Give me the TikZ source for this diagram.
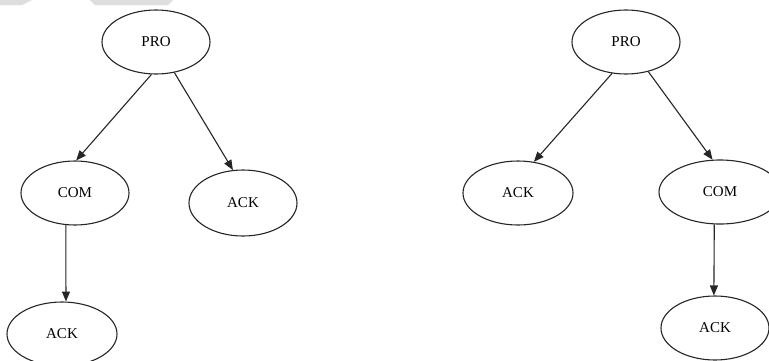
\documentclass[tikz,border=0pt]{standalone}
\usepackage{fontspec}
\setmainfont{Liberation Serif}
\usetikzlibrary{shapes.geometric,arrows.meta}
\begin{document}
\begin{tikzpicture}[x=1pt,y=-1pt,
  st/.style={draw=black!85, line width=1.1pt, ellipse, inner sep=0pt,
     font=\fontsize{15}{18}\selectfont},
  ar/.style={draw=black!85, line width=1.1pt, -{Triangle[length=10pt,width=8pt]}}]
\useasboundingbox (0,0) rectangle (769,360);
\fill[white] (0,0) rectangle (769,360);
% faint grey bands at the top edge
\fill[black!13] (0,0) -- (32,0) -- (22,5) -- (0,5) -- cycle;
\fill[black!13] (90,0) -- (173,0) -- (168,5) -- (95,5) -- cycle;
% left tree
\node[st, minimum width=108pt, minimum height=64pt] (proL) at (156,42) {PRO};
\node[st, minimum width=108pt, minimum height=64pt] (comL) at (75,193) {COM};
\node[st, minimum width=108pt, minimum height=66pt] (ackLa) at (243,203) {ACK};
\node[st, minimum width=110pt, minimum height=64pt] (ackLb) at (62,334) {ACK};
\draw[ar] (proL.-98) -- (comL.88);
\draw[ar] (proL.-59) -- (ackLa.107);
\draw[ar] (comL.-106) -- (ackLb.83);
% right tree
\node[st, minimum width=108pt, minimum height=64pt] (proR) at (626,42) {PRO};
\node[st, minimum width=110pt, minimum height=64pt] (ackRa) at (518,193) {ACK};
\node[st, minimum width=122pt, minimum height=64pt] (comR) at (720,192) {COM};
\node[st, minimum width=108pt, minimum height=64pt] (ackRb) at (715,328) {ACK};
\draw[ar] (proR.-114) -- (ackRa.63);
\draw[ar] (proR.-53) -- (comR.103);
\draw[ar] (comR.-100) -- (ackRb.92);
\end{tikzpicture}
\end{document}
